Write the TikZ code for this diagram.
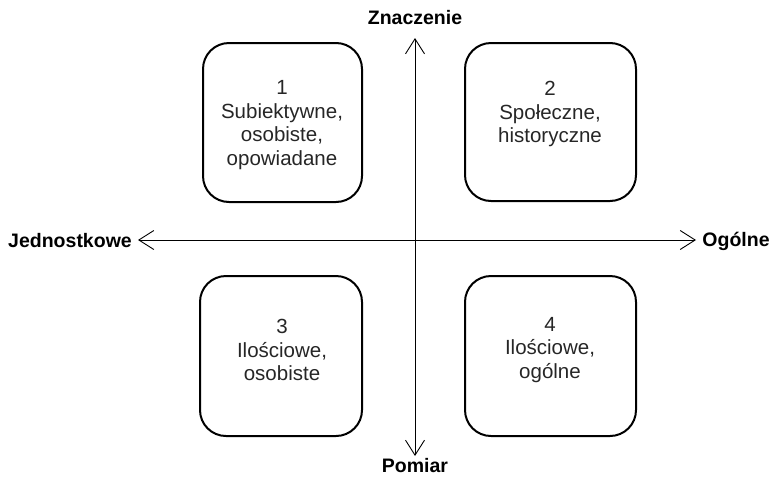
\documentclass[tikz,border=0pt]{standalone}
\usepackage{fontspec}
\setmainfont{Liberation Sans}
\usetikzlibrary{arrows.meta}
\begin{document}
\begin{tikzpicture}[x=1pt,y=-1pt,
  quad/.style={draw=black,line width=2pt,rounded corners=26pt},
  qtext/.style={align=center,font=\fontsize{20.5}{23.5}\selectfont,text=black!85},
  axislabel/.style={font=\fontsize{19.5}{22}\selectfont\bfseries},
  axis/.style={line width=0.9pt,{Straight Barb[length=15pt,width=19pt]}-{Straight Barb[length=15pt,width=19pt]}}]
\useasboundingbox (0,0) rectangle (775,477);
\draw[quad] (203,43) rectangle (362,202);
\draw[quad] (465,43) rectangle (636,201);
\draw[quad] (200,276) rectangle (362,436);
\draw[quad] (465,276) rectangle (636,436);
\node[qtext] (t1) at (282,125) {1\\Subiektywne,\\osobiste,\\opowiadane};
\node[qtext] (t2) at (550,114) {2\\Społeczne,\\historyczne};
\node[qtext] (t3) at (282,350) {3\\Ilościowe,\\osobiste};
\node[qtext] (t4) at (550,350) {4\\Ilościowe,\\ogólne};
\node[axislabel] (zn) at (415,18) {Znaczenie};
\node[axislabel] (po) at (415,466) {Pomiar};
\node[axislabel] (je) at (70,241) {Jednostkowe};
\node[axislabel] (og) at (736,241) {Ogólne};
\coordinate (top) at (415,38);
\coordinate (bot) at (415,456);
\coordinate (lft) at (138,240);
\coordinate (rgt) at (696,240);
\draw[axis] (bot) -- (top);
\draw[axis] (lft) -- (rgt);
\end{tikzpicture}
\end{document}
